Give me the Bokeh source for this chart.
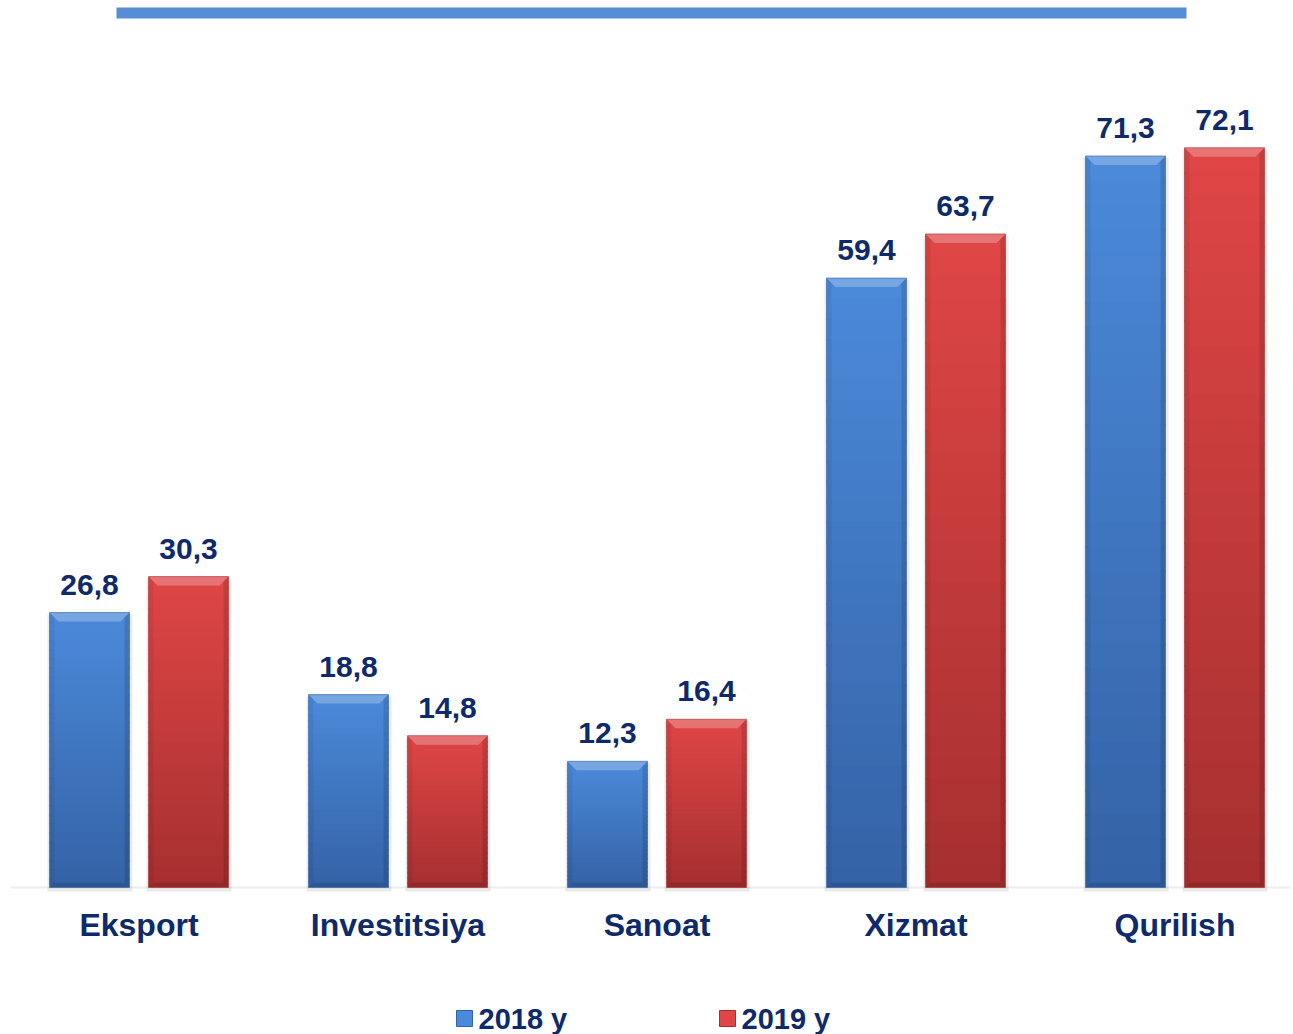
import numpy as np
from bokeh.plotting import figure
from bokeh.models import Range1d, ColumnDataSource
from bokeh.core.properties import value
from bokeh.embed import file_html
from bokeh.resources import INLINE

# ---- data ----
categories = ["Eksport", "Investitsiya", "Sanoat", "Xizmat", "Qurilish"]
v2018 = [26.8, 18.8, 12.3, 59.4, 71.3]
v2019 = [30.3, 14.8, 16.4, 63.7, 72.1]
series_names = ["2018 y", "2019 y"]

# ---- layout ----
W, H = 1293, 1034
PX_CAT = 259.0          # pixels per category
PX_UNIT = 10.26         # pixels per value unit
CX0 = 138.5             # canvas x of first category centre
BASE = 887.0            # canvas y of the baseline

x0 = -CX0 / PX_CAT
y1 = BASE / PX_UNIT

def dx(px):
    return px / PX_CAT

def dy(px):
    return px / PX_UNIT

def cx(px):  # canvas x -> data
    return x0 + px / PX_CAT

def cy(px):  # canvas y (from top) -> data
    return y1 - px / PX_UNIT

p = figure(width=W, height=H, output_backend="svg", toolbar_location=None,
           x_range=Range1d(x0, x0 + W / PX_CAT), y_range=Range1d(y1 - H / PX_UNIT, y1),
           min_border=0, background_fill_color="white", border_fill_color="white")
p.xaxis.visible = False
p.yaxis.visible = False
p.xgrid.visible = False
p.ygrid.visible = False
p.outline_line_color = None

FONT = value("Liberation Sans")
NAVY = "#0e2a6a"

# top decorative line
p.quad(left=[cx(116)], right=[cx(1186)], top=[cy(7)], bottom=[cy(18)],
       fill_color="#558ed5", line_color=None)

# baseline
p.segment(x0=[cx(10)], x1=[cx(1290)], y0=[0], y1=[0], line_color="#ededed", line_width=2)

def hex2rgb(h):
    h = h.lstrip("#")
    return np.array([int(h[i:i + 2], 16) for i in (0, 2, 4)], dtype=float)

def rgb2hex(c):
    return "#%02x%02x%02x" % tuple(int(round(v)) for v in c)

palettes = [("#4b8ada", "#3462a6"), ("#e04646", "#a62f2f")]
half = dx(40)
offs = [-dx(49.5), dx(49.5)]
NSL = 30

for si, vals in enumerate([v2018, v2019]):
    ctop, cbot = hex2rgb(palettes[si][0]), hex2rgb(palettes[si][1])
    L, R, T, B, C = [], [], [], [], []
    bev_xs, bev_ys, bev_c, bev_a = [], [], [], []
    sh_l, sh_r, sh_t = [], [], []
    for ci, v in enumerate(vals):
        xc = ci + offs[si]
        l, r = xc - half, xc + half
        edges = np.linspace(v, 0, NSL + 1)
        for k in range(NSL):
            t = (k + 0.5) / NSL
            bot = edges[k + 1] - (dy(1.5) if k < NSL - 1 else 0)
            L.append(l); R.append(r); T.append(edges[k]); B.append(bot)
            C.append(rgb2hex(ctop * (1 - t) + cbot * t))
        bx, by = dx(9), dy(9)
        sx, sy = dx(5), dy(5)
        # top bevel (light)
        bev_xs.append([l, r, r - bx, l + bx]); bev_ys.append([v, v, v - by, v - by])
        bev_c.append("white"); bev_a.append(0.25)
        # left bevel
        bev_xs.append([l, l + sx, l + sx, l]); bev_ys.append([v, v - sy, sy, 0])
        bev_c.append("black"); bev_a.append(0.06)
        # right bevel
        bev_xs.append([r, r - sx, r - sx, r]); bev_ys.append([v, v - sy, sy, 0])
        bev_c.append("black"); bev_a.append(0.12)
        # bottom bevel
        bev_xs.append([l, r, r - sx, l + sx]); bev_ys.append([0, 0, sy, sy])
        bev_c.append("black"); bev_a.append(0.12)
        sh_l.append(l - dx(2)); sh_r.append(r + dx(3)); sh_t.append(v - dy(2))
    # soft shadow
    p.quad(left=sh_l, right=sh_r, top=sh_t, bottom=[-dy(4)] * len(sh_l),
           fill_color="#000000", fill_alpha=0.08, line_color=None)
    p.quad(left=L, right=R, top=T, bottom=B, fill_color=C, line_color=None)
    p.patches(xs=bev_xs, ys=bev_ys, fill_color=bev_c, fill_alpha=bev_a, line_color=None)
    p.quad(left=[c + offs[si] - half for c in range(len(vals))],
           right=[c + offs[si] + half for c in range(len(vals))],
           top=vals, bottom=[0] * len(vals), fill_color=None,
           line_color=palettes[si][1], line_alpha=0.6, line_width=1)
    # value labels
    src = ColumnDataSource(dict(x=[c + offs[si] for c in range(len(vals))], y=vals,
                                t=[f"{v:.1f}".replace(".", ",") for v in vals]))
    p.text(x="x", y="y", text="t", source=src, text_font=FONT, text_font_style="bold",
           text_font_size="30px", text_color=NAVY, text_align="center",
           text_baseline="alphabetic", y_offset=-28)

# category labels
p.text(x=list(range(len(categories))), y=[0] * len(categories), text=categories,
       text_font=FONT, text_font_style="bold", text_font_size="32px", text_color=NAVY,
       text_align="center", text_baseline="alphabetic", y_offset=37)

# legend
leg_sq_x = [cx(464), cx(727)]
leg_tx_x = [cx(478), cx(741)]
leg_base = cy(1018)
leg_sq_y = cy(1018)
for si in range(2):
    p.rect(x=[leg_sq_x[si]], y=[leg_sq_y], width=16, height=16, width_units="screen",
           height_units="screen", fill_color=palettes[si][0], line_color=palettes[si][1])
p.text(x=leg_tx_x, y=[leg_base] * 2, text=series_names, text_font=FONT,
       text_font_style="bold", text_font_size="29px", text_color=NAVY,
       text_align="left", text_baseline="alphabetic")

open("out.html", "w").write(file_html(p, INLINE))
